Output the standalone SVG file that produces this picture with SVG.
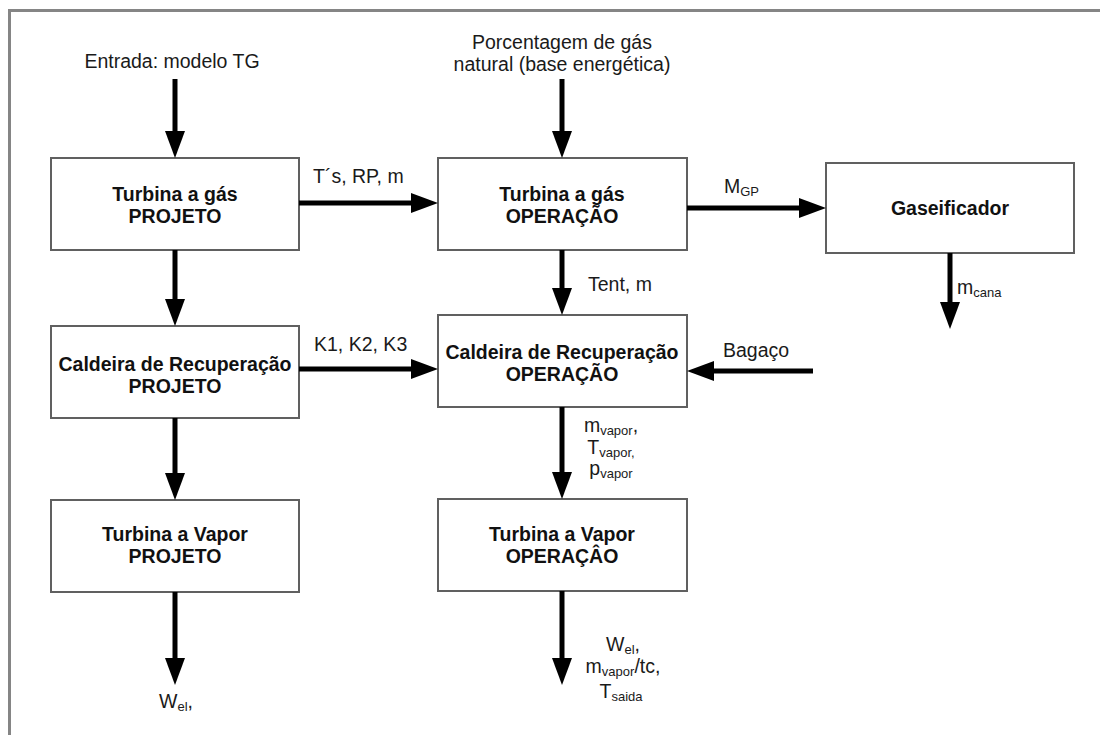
<svg xmlns="http://www.w3.org/2000/svg" width="1100" height="735" viewBox="0 0 1100 735">
<style>
  .box{fill:#fff;stroke:#606060;stroke-width:2}
  .t{font-family:"Liberation Sans",Arial,sans-serif;font-size:19.5px;fill:#1a1a1a}
  .b{font-family:"Liberation Sans",Arial,sans-serif;font-size:19.5px;font-weight:bold;fill:#111;text-anchor:middle}
  .c{text-anchor:middle}
  .s{font-size:13px}
  .ln{stroke:#000;stroke-width:5;fill:none;marker-end:url(#ah)}
</style>
<defs>
  <marker id="ah" markerUnits="userSpaceOnUse" markerWidth="27" markerHeight="20" refX="2" refY="10" orient="auto" viewBox="0 0 27 20">
    <path d="M0,0 L27,10 L0,20 z" fill="#000"/>
  </marker>
</defs>
<rect x="0" y="0" width="1100" height="735" fill="#fff"/>
<rect x="9.5" y="10.5" width="1200" height="800" fill="none" stroke="#858585" stroke-width="3"/>

<g id="tg-projeto">
  <rect class="box" x="51" y="158" width="248" height="92"/>
  <text class="b" x="175" y="201">Turbina a gás</text>
  <text class="b" x="175" y="223">PROJETO</text>
</g>
<g id="tg-operacao">
  <rect class="box" x="438" y="158" width="249" height="92"/>
  <text class="b" x="562" y="201">Turbina a gás</text>
  <text class="b" x="562" y="223">OPERAÇÃO</text>
</g>
<g id="gaseificador">
  <rect class="box" x="826" y="163" width="248" height="90"/>
  <text class="b" x="950" y="215">Gaseificador</text>
</g>
<g id="cr-projeto">
  <rect class="box" x="51" y="326" width="248" height="92"/>
  <text class="b" x="175" y="371">Caldeira de Recuperação</text>
  <text class="b" x="175" y="393">PROJETO</text>
</g>
<g id="cr-operacao">
  <rect class="box" x="438" y="315" width="249" height="92"/>
  <text class="b" x="562" y="359">Caldeira de Recuperação</text>
  <text class="b" x="562" y="381">OPERAÇÃO</text>
</g>
<g id="tv-projeto">
  <rect class="box" x="51" y="500" width="248" height="92"/>
  <text class="b" x="175" y="541">Turbina a Vapor</text>
  <text class="b" x="175" y="563">PROJETO</text>
</g>
<g id="tv-operacao">
  <rect class="box" x="438" y="499" width="249" height="92"/>
  <text class="b" x="562" y="541">Turbina a Vapor</text>
  <text class="b" x="562" y="563">OPERAÇÂO</text>
</g>

<g id="connectors">
  <line class="ln" x1="175" y1="79" x2="175" y2="133"/>
  <line class="ln" x1="562" y1="79" x2="562" y2="133"/>
  <line class="ln" x1="175" y1="250" x2="175" y2="301"/>
  <line class="ln" x1="562" y1="250" x2="562" y2="290"/>
  <line class="ln" x1="175" y1="418" x2="175" y2="475"/>
  <line class="ln" x1="562" y1="407" x2="562" y2="474"/>
  <line class="ln" x1="175" y1="592" x2="175" y2="660"/>
  <line class="ln" x1="562" y1="591" x2="562" y2="660"/>
  <line class="ln" x1="950" y1="253" x2="950" y2="304"/>
  <line class="ln" x1="299" y1="203" x2="413" y2="203"/>
  <line class="ln" x1="687" y1="208" x2="801" y2="208"/>
  <line class="ln" x1="299" y1="369" x2="413" y2="369"/>
  <line class="ln" x1="813" y1="371" x2="712" y2="371"/>
</g>

<g id="labels">
  <text class="t c" x="172" y="68">Entrada: modelo TG</text>
  <text class="t c" x="562" y="49">Porcentagem de gás</text>
  <text class="t c" x="562" y="71">natural (base energética)</text>
  <text class="t" x="313" y="183">T´s, RP, m</text>
  <text class="t" x="724" y="193">M<tspan class="s" dy="3">GP</tspan></text>
  <text class="t" x="588" y="291">Tent, m</text>
  <text class="t" x="957" y="294">m<tspan class="s" dy="3">cana</tspan></text>
  <text class="t" x="314" y="351">K1, K2, K3</text>
  <text class="t" x="723" y="357">Bagaço</text>
  <text class="t c" x="611" y="432">m<tspan class="s" dy="3">vapor</tspan><tspan dy="-3">,</tspan></text>
  <text class="t c" x="611" y="454">T<tspan class="s" dy="3">vapor,</tspan></text>
  <text class="t c" x="611" y="475">p<tspan class="s" dy="3">vapor</tspan></text>
  <text class="t c" x="623" y="651">W<tspan class="s" dy="3">el</tspan><tspan dy="-3">,</tspan></text>
  <text class="t c" x="623" y="673">m<tspan class="s" dy="3">vapor</tspan><tspan dy="-3">/tc,</tspan></text>
  <text class="t c" x="621" y="698">T<tspan class="s" dy="3">saida</tspan></text>
  <text class="t c" x="176" y="708">W<tspan class="s" dy="3">el</tspan><tspan dy="-3">,</tspan></text>
</g>
</svg>
